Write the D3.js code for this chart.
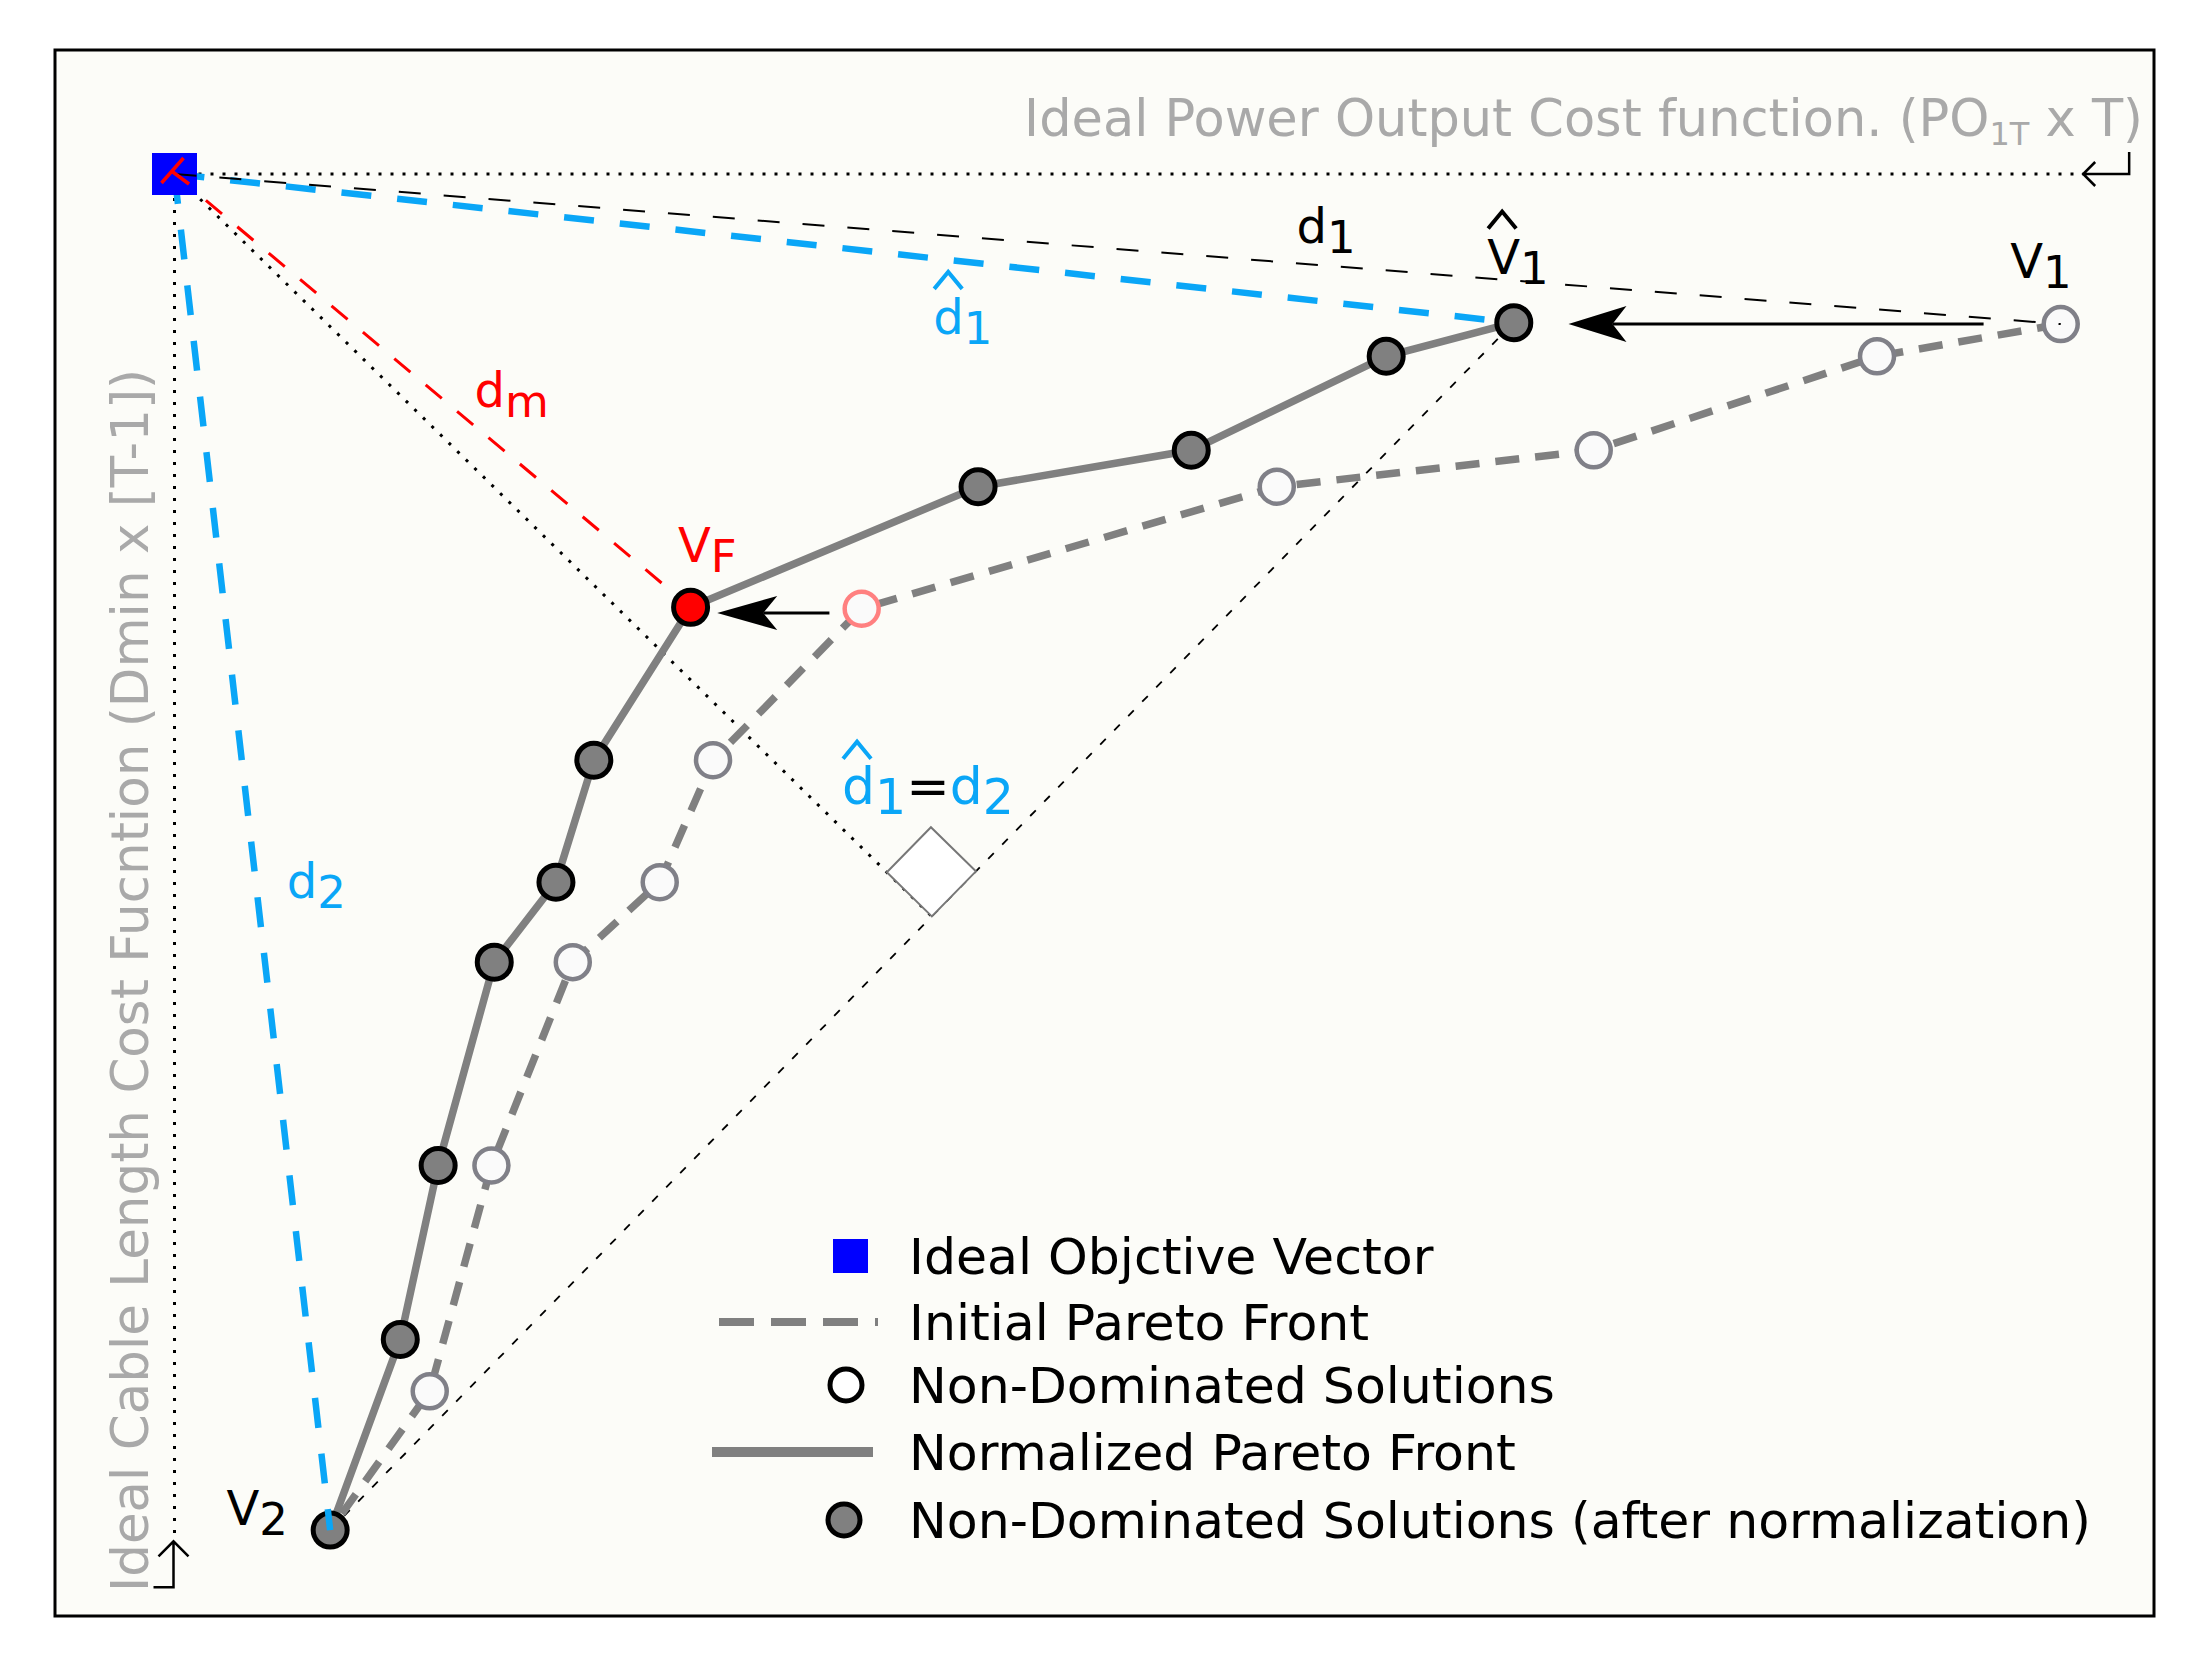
<!DOCTYPE html>
<html><head><meta charset="utf-8">
<script src="https://cdn.jsdelivr.net/npm/d3@7"></script>
<style>
html,body{margin:0;padding:0;background:#ffffff;}
svg{display:block;font-family:"DejaVu Sans",Verdana,sans-serif;}
</style>
</head><body>
<svg id="chart" width="2199" height="1665"></svg>
<script>
// ---------------- DATA (ideal vector at origin) ----------------
const idealPoint = [0, 0];
// Normalized Pareto front (filled markers), from V^1 down to V2
const normX = [95.5, 86.4, 72.5, 57.3, 36.8, 29.9, 27.2, 22.8, 18.8, 16.1, 11.1];
const normY = [10.6, 13.0, 19.7, 22.3, 30.9, 41.8, 50.5, 56.2, 70.7, 83.1, 96.7];
// Initial Pareto front (hollow markers), from V1 down to V2
const initX = [134.5, 121.4, 101.2, 78.6, 49.0, 38.4, 34.6, 28.4, 22.6, 18.2, 11.1];
const initY = [10.7, 13.0, 19.7, 22.3, 31.0, 41.8, 50.5, 56.2, 70.7, 86.8, 96.7];
const vfIndex = 4;              // selected solution V_F
const axisExtent = [136.1, 97.5]; // end of the dotted ideal axes (x, y)
// arrows: initial -> normalized
const arrowFromX = [129.0, 46.7];
const arrowToX   = [99.4, 38.7];
const arrowY     = [10.7, 31.3];
// annotation labels
const labelMain  = ["d", "V", "V", "d", "d", "V", "d", "d", "V"];
const labelSub   = ["1", "1", "1", "1", "m", "F", "1", "2", "2"];
const labelX     = [80.0, 93.6, 130.9, 54.1, 21.4, 35.9, 47.6, 8.0, 3.7];
const labelY     = [4.9, 7.1, 7.4, 11.4, 16.6, 27.7, 44.9, 51.6, 96.3];
const labelHat   = [false, true, false, true, false, false, true, false, false];
const labelColor = ["#000000", "#000000", "#000000", "#0aa6f7", "#ff0000", "#ff0000", "#0aa6f7", "#0aa6f7", "#000000"];
const legendLabels = ["Ideal Objctive Vector", "Initial Pareto Front", "Non-Dominated Solutions",
                      "Normalized Pareto Front", "Non-Dominated Solutions (after normalization)"];
const xTitle = ["Ideal Power Output Cost function. (PO", "1T", " x T)"];
const yTitle = "Ideal Cable Length Cost Fucntion (Dmin x [T-1])";

// ---------------- SETUP ----------------
const svg = d3.select("#chart");
const x = d3.scaleLinear().domain([0, 100]).range([174.5, 1576.9]);
const y = d3.scaleLinear().domain([0, 100]).range([174, 1576.4]);
const BLUE = "#0aa6f7", GRAY = "#808080", HOLLOW = "#808088";

const norm = normX.map((v, i) => [v, normY[i]]);
const init = initX.map((v, i) => [v, initY[i]]);
const vHat = norm[0], v1 = init[0], v2 = norm[norm.length - 1], vF = norm[vfIndex];
const P = d => [x(d[0]), y(d[1])];

// frame
svg.append("rect").attr("x", 55).attr("y", 50).attr("width", 2099).attr("height", 1566)
  .attr("fill", "#fcfcf8").attr("stroke", "#000").attr("stroke-width", 3);

const line = d3.line().x(d => x(d[0])).y(d => y(d[1]));
function seg(a, b, stroke, w, dash, cap) {
  return svg.append("path").attr("d", line([a, b])).attr("fill", "none")
    .attr("stroke", stroke).attr("stroke-width", w)
    .attr("stroke-dasharray", dash || null).attr("stroke-linecap", cap || "butt");
}

// dotted ideal axes
seg(idealPoint, [axisExtent[0], idealPoint[1]], "#000", 3, "3,9");
seg(idealPoint, [idealPoint[0], axisExtent[1]], "#000", 3, "3,9");
// return-arrow glyphs at the ends of the axes
{
  const ex = x(axisExtent[0]), ey = y(idealPoint[1]);
  svg.append("path").attr("d", `M${ex+46},${ey-22}V${ey}H${ex}M${ex+12},${ey-12}L${ex},${ey}L${ex+12},${ey+12}`)
    .attr("fill", "none").attr("stroke", "#000").attr("stroke-width", 2.5);
  const vx = x(idealPoint[0]) - 1, vy = y(axisExtent[1]);
  svg.append("path").attr("d", `M${vx-20},${vy+46}H${vx}V${vy}M${vx-15},${vy+15}L${vx},${vy}L${vx+15},${vy+15}`)
    .attr("fill", "none").attr("stroke", "#000").attr("stroke-width", 2.5);
}

// foot of perpendicular from ideal to the V2 - V^1 line
const dx = vHat[0] - v2[0], dy = vHat[1] - v2[1];
const t = ((idealPoint[0] - v2[0]) * dx + (idealPoint[1] - v2[1]) * dy) / (dx * dx + dy * dy);
const foot = [v2[0] + t * dx, v2[1] + t * dy];

seg(idealPoint, foot, "#000", 3, "3,9");          // dotted perpendicular
seg(v2, vHat, "#000", 1.8, "8,12");                // thin dashed V2 -> V^1
// right-angle marker
{
  const F = P(foot), I = P(idealPoint), H = P(vHat);
  const u1 = [I[0] - F[0], I[1] - F[1]], l1 = Math.hypot(...u1);
  const u2 = [H[0] - F[0], H[1] - F[1]], l2 = Math.hypot(...u2);
  const s = 63;
  const a = [F[0] + u1[0] / l1 * s, F[1] + u1[1] / l1 * s];
  const c = [F[0] + u2[0] / l2 * s, F[1] + u2[1] / l2 * s];
  const b = [a[0] + u2[0] / l2 * s, a[1] + u2[1] / l2 * s];
  svg.append("path").attr("d", `M${F}L${a}L${b}L${c}Z`).attr("fill", "#ffffff")
    .attr("stroke", "#777").attr("stroke-width", 2);
}

seg(idealPoint, vF, "#ff0000", 3, "21,20");       // d_m
// fronts
svg.append("path").attr("d", line(init)).attr("fill", "none").attr("stroke", GRAY)
  .attr("stroke-width", 7.5).attr("stroke-dasharray", "24,16");
svg.append("path").attr("d", line(norm)).attr("fill", "none").attr("stroke", GRAY)
  .attr("stroke-width", 7.5);
seg(idealPoint, vHat, BLUE, 6.5, "30,26");          // d^1

// hollow markers (initial front, V2 shared)
svg.selectAll(".hol").data(init.slice(0, init.length - 1)).enter().append("circle")
  .attr("cx", d => x(d[0])).attr("cy", d => y(d[1])).attr("r", 17)
  .attr("fill", "#fafafa").attr("stroke", (d, i) => i === vfIndex ? "#ff8080" : HOLLOW)
  .attr("stroke-width", 4.5);
// filled markers
svg.selectAll(".fil").data(norm).enter().append("circle")
  .attr("cx", d => x(d[0])).attr("cy", d => y(d[1])).attr("r", 17)
  .attr("fill", (d, i) => i === vfIndex ? "#ff0000" : GRAY).attr("stroke", "#000")
  .attr("stroke-width", 5);

seg(idealPoint, v2, BLUE, 6.5, "30,26");            // d2
// ideal objective vector
svg.append("rect").attr("x", x(idealPoint[0]) - 22.5).attr("y", y(idealPoint[1]) - 21)
  .attr("width", 45).attr("height", 42).attr("fill", "#0000ff");
seg(idealPoint, v1, "#000", 2, "22,23");            // d1
{
  const cx = x(idealPoint[0]), cy = y(idealPoint[1]);
  svg.append("path").attr("d", `M${cx-13},${cy+9}L${cx+9},${cy-16}M${cx-3},${cy-3}L${cx+14.5},${cy+10}`)
    .attr("stroke", "#ff0000").attr("stroke-width", 3.5).attr("fill", "none");
}

// arrows
arrowFromX.forEach((fx, i) => {
  const sx = x(fx), tx = x(arrowToX[i]), ay = y(arrowY[i]);
  const L = i === 0 ? 58 : 60, W = i === 0 ? 18 : 17, N = L - 14;
  svg.append("path").attr("d", `M${sx},${ay}H${tx + N}`).attr("stroke", "#000").attr("stroke-width", 3);
  svg.append("path").attr("d", `M${tx},${ay}L${tx+L},${ay-W}L${tx+N},${ay}L${tx+L},${ay+W}Z`).attr("fill", "#000");
});

// labels
labelMain.forEach((m, i) => {
  const lx = x(labelX[i]), ly = y(labelY[i]);
  const fs = i === 6 ? 52 : 48;
  const tx = svg.append("text").attr("x", lx).attr("y", ly).attr("font-size", fs).attr("fill", labelColor[i]);
  tx.append("tspan").text(m);
  tx.append("tspan").attr("dy", 10).attr("font-size", fs - 3).text(labelSub[i]);
  if (i === 6) {
    tx.append("tspan").attr("dy", -10).attr("fill", "#000").text("=");
    tx.append("tspan").text("d");
    tx.append("tspan").attr("dy", 10).attr("font-size", fs - 3).text("2");
  }
  if (labelHat[i]) {
    const hx = lx + 15;
    svg.append("path").attr("d", `M${hx-14},${ly-45}L${hx},${ly-62}L${hx+14},${ly-45}`)
      .attr("fill", "none").attr("stroke", labelColor[i]).attr("stroke-width", 4);
  }
});

// axis titles
{
  const t1 = svg.append("text").attr("x", 2143).attr("y", 136).attr("text-anchor", "end")
    .attr("font-size", 51).attr("fill", "#a9a9a9");
  t1.append("tspan").text(xTitle[0]);
  t1.append("tspan").attr("font-size", 32).attr("dy", 9).text(xTitle[1]);
  t1.append("tspan").attr("dy", -9).text(xTitle[2]);
  svg.append("text").attr("transform", "translate(148,1592) rotate(-90)")
    .attr("font-size", 51.5).attr("fill", "#a9a9a9").text(yTitle);
}

// legend
const legY = [1256, 1322, 1385, 1452, 1520];
const leg = svg.append("g");
leg.append("rect").attr("x", 833).attr("y", legY[0] - 17).attr("width", 35).attr("height", 34).attr("fill", "#0000ff");
leg.append("line").attr("x1", 719).attr("x2", 878).attr("y1", legY[1]).attr("y2", legY[1])
  .attr("stroke", GRAY).attr("stroke-width", 8).attr("stroke-dasharray", "35,17");
leg.append("circle").attr("cx", 846).attr("cy", legY[2]).attr("r", 16).attr("fill", "#fff")
  .attr("stroke", "#000").attr("stroke-width", 5);
leg.append("line").attr("x1", 712).attr("x2", 873).attr("y1", legY[3]).attr("y2", legY[3])
  .attr("stroke", GRAY).attr("stroke-width", 10);
leg.append("circle").attr("cx", 844).attr("cy", legY[4]).attr("r", 16).attr("fill", GRAY)
  .attr("stroke", "#000").attr("stroke-width", 5);
leg.selectAll("text").data(legendLabels).enter().append("text")
  .attr("x", 909).attr("y", (d, i) => legY[i] + 18).attr("font-size", 50.5).attr("fill", "#000").text(d => d);
</script>
</body></html>
